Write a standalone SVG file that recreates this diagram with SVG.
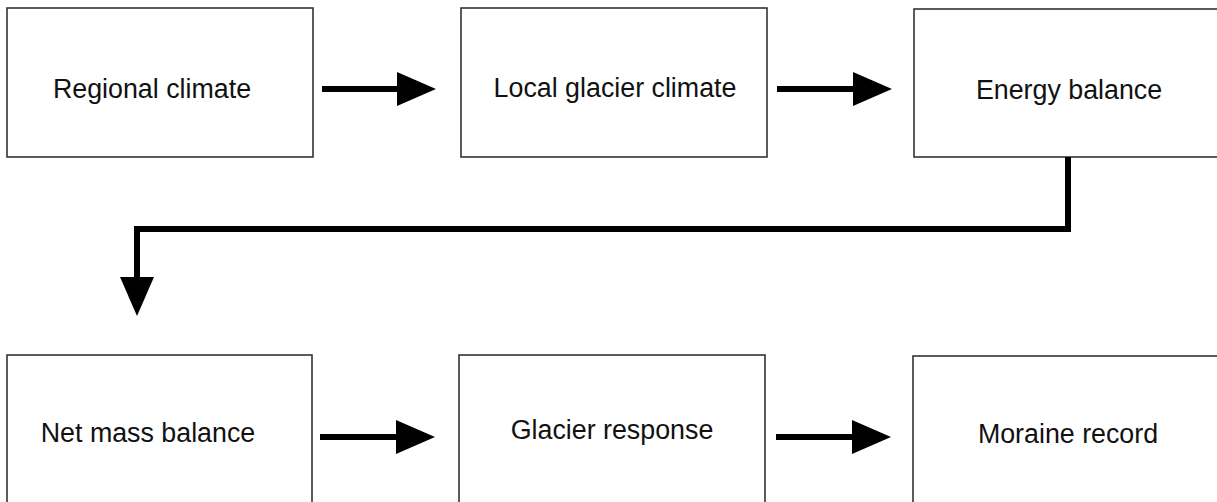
<svg xmlns="http://www.w3.org/2000/svg" width="1217" height="502" viewBox="0 0 1217 502">
<style>
.box{fill:#fff;stroke:#333;stroke-width:1.6}
.lbl{font-family:"Liberation Sans",Arial,sans-serif;font-size:26.8px;fill:#111;text-anchor:middle}
.con{fill:none;stroke:#000;stroke-width:6;stroke-linejoin:miter}
</style>
<defs>
<marker id="ah" viewBox="0 -18 40 36" refX="0" refY="0" markerWidth="40" markerHeight="36" markerUnits="userSpaceOnUse" orient="auto">
<path d="M0,-17 L39,0 L0,17 z" fill="#000"/>
</marker>
</defs>
<rect width="1217" height="502" fill="#fff"/>
<g id="n1"><rect class="box" x="7" y="8" width="306" height="149"/><text class="lbl" x="152" y="98">Regional climate</text></g>
<g id="n2"><rect class="box" x="461" y="8" width="306" height="149"/><text class="lbl" x="615" y="97">Local glacier climate</text></g>
<g id="n3"><rect class="box" x="914" y="9" width="310" height="148"/><text class="lbl" x="1069" y="99">Energy balance</text></g>
<g id="n4"><rect class="box" x="7" y="355" width="305" height="160"/><text class="lbl" x="148" y="442">Net mass balance</text></g>
<g id="n5"><rect class="box" x="459" y="355" width="306" height="160"/><text class="lbl" x="612" y="439">Glacier response</text></g>
<g id="n6"><rect class="box" x="913" y="356" width="310" height="160"/><text class="lbl" x="1068" y="443">Moraine record</text></g>
<g id="connectors">
<path class="con" d="M322,89 H397" marker-end="url(#ah)"/>
<path class="con" d="M777,89 H853" marker-end="url(#ah)"/>
<path class="con" d="M1068,157 V229 H137 V277" marker-end="url(#ah)"/>
<path class="con" d="M320,437 H396" marker-end="url(#ah)"/>
<path class="con" d="M776,437 H852" marker-end="url(#ah)"/>
</g>
</svg>
